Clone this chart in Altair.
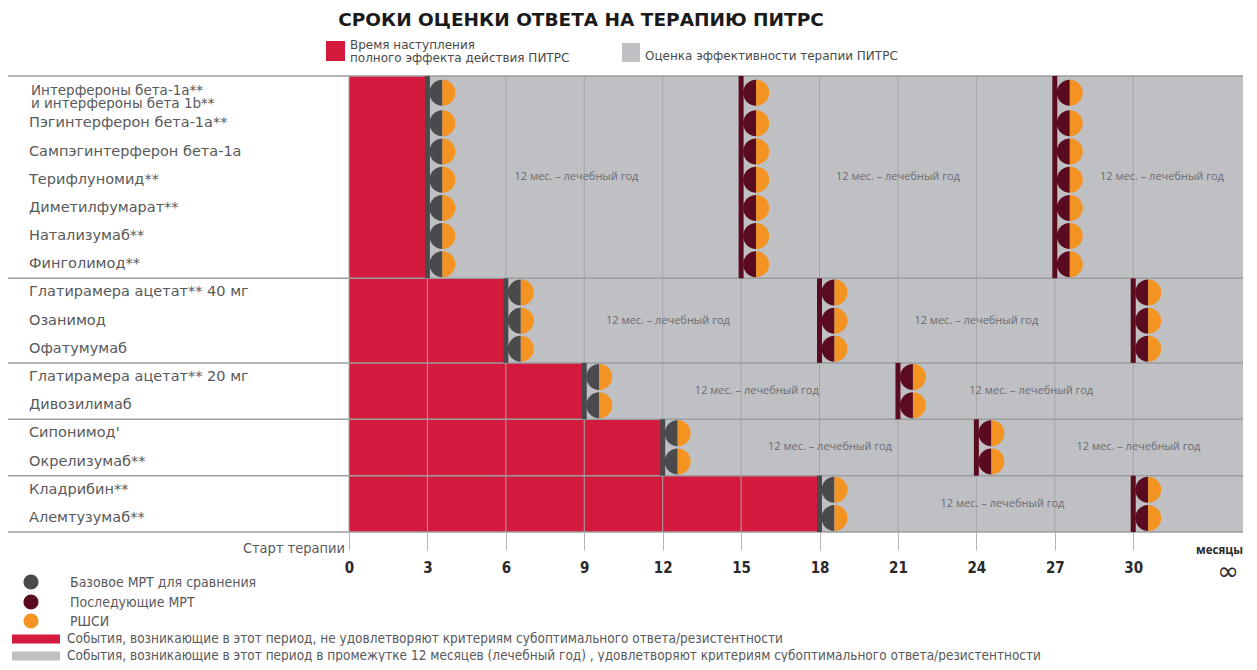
import altair as alt
import pandas as pd

# ---------------- data ----------------
drugs = [
    "Интерфероны бета-1а**\nи интерфероны бета 1b**",
    "Пэгинтерферон бета-1а**",
    "Сампэгинтерферон бета-1а",
    "Терифлуномид**",
    "Диметилфумарат**",
    "Натализумаб**",
    "Финголимод**",
    "Глатирамера ацетат** 40 мг",
    "Озанимод",
    "Офатумумаб",
    "Глатирамера ацетат** 20 мг",
    "Дивозилимаб",
    "Сипонимод'",
    "Окрелизумаб**",
    "Кладрибин**",
    "Алемтузумаб**",
]
group_sizes = [7, 3, 2, 2, 2]
full_effect_months = [3, 6, 9, 12, 18]
baseline_mri_months = [3, 6, 9, 12, 18]
followup_mri_months = [[15, 27], [18, 30], [21], [24], [30]]
year_label_months = [[8.7, 21.0, 31.1], [12.2, 24.0], [15.6, 26.1], [18.4, 30.2], [25.0]]
year_label_text = "12 мес. – лечебный год"
tick_months = [0, 3, 6, 9, 12, 15, 18, 21, 24, 27, 30]
x_max = 34.2

title_text = "СРОКИ ОЦЕНКИ ОТВЕТА НА ТЕРАПИЮ ПИТРС"
top_legend_red = ["Время наступления", "полного эффекта действия ПИТРС"]
top_legend_gray = "Оценка эффективности терапии ПИТРС"
marker_legend = ["Базовое МРТ для сравнения", "Последующие МРТ", "РШСИ"]
band_legend = [
    "События, возникающие в этот период, не удовлетворяют критериям субоптимального ответа/резистентности",
    "События, возникающие в этот период в промежутке 12 месяцев (лечебный год) , удовлетворяют критериям субоптимального ответа/резистентности",
]

# colours
RED = "#d51b3d"
GRAY_BG = "#bfc0c4"
GRID = "#a4a5a9"
DARK = "#4a4a4c"
MAROON = "#5a0b1f"
ORANGE = "#f39322"
TXT = "#58595b"

# ---------------- tables ----------------
# a row with a two-line label is a little taller
row_h = [1.18 if "\n" in d else 1.0 for d in drugs]
row_start = [sum(row_h[:i]) for i in range(len(drugs))]
row_mid = [row_start[i] + row_h[i] / 2 for i in range(len(drugs))]
total_h = sum(row_h)

labels_df = pd.DataFrame({"label": drugs, "yc": row_mid,
                          "multi": ["\n" in d for d in drugs]})

g_rows, bars, pts, ylabs = [], [], [], []
bounds = [0.0]
r0 = 0
for gi, size in enumerate(group_sizes):
    y0 = row_start[r0]
    y1 = row_start[r0 + size - 1] + row_h[r0 + size - 1]
    bounds.append(y1)
    g_rows.append({"y0": y0, "y1": y1, "x0": 0, "red_end": full_effect_months[gi]})
    months = [(baseline_mri_months[gi], "base")] + [(m, "follow") for m in followup_mri_months[gi]]
    for m, kind in months:
        bars.append({"month": m, "y0": y0, "y1": y1, "kind": kind})
        for r in range(r0, r0 + size):
            pts.append({"month": m, "yc": row_mid[r], "kind": kind})
    for xm in year_label_months[gi]:
        ylabs.append({"xm": xm, "ym": (y0 + y1) / 2, "t": year_label_text})
    r0 += size
groups_df = pd.DataFrame(g_rows)
bars_df = pd.DataFrame(bars)
pts_df = pd.DataFrame(pts)
ylab_df = pd.DataFrame(ylabs)
bounds_df = pd.DataFrame({"yb": bounds})
grid_df = pd.DataFrame({"m": tick_months, "y0": 0, "y1": total_h})
bg_df = pd.DataFrame({"x0": [0], "x1": [x_max], "y0": [0], "y1": [total_h]})

# ---------------- scales ----------------
xs = alt.Scale(domain=[0, x_max], nice=False, zero=False)
ys = alt.Scale(domain=[0, total_h], reverse=True, nice=False, zero=False)
kind_color = alt.Color("kind:N", scale=alt.Scale(domain=["base", "follow"], range=[DARK, MAROON]), legend=None)

SANS = "Open Sans, DejaVu Sans, sans-serif"
WIDE = "DejaVu Sans, sans-serif"
NARROW = "Liberation Sans Narrow, DejaVu Sans Condensed, Roboto, sans-serif"

bg = alt.Chart(bg_df).mark_rect(color=GRAY_BG).encode(
    x=alt.X("x0:Q", scale=xs, axis=alt.Axis(
        values=tick_months, grid=False, domain=False, tickSize=18, tickColor="#b5b5b5",
        tickWidth=1, labelFontSize=15, labelFont=NARROW, labelFontWeight="bold",
        labelColor="#2a2a2a", labelPadding=10, title=None, labelFlush=False)),
    x2="x1:Q",
    y=alt.Y("y0:Q", scale=ys, axis=None),
    y2="y1:Q",
)

red = alt.Chart(groups_df).mark_rect(color=RED).encode(
    x=alt.X("x0:Q", scale=xs), x2="red_end:Q", y=alt.Y("y0:Q", scale=ys), y2="y1:Q")

grid = alt.Chart(grid_df).mark_rule(color=GRID, strokeWidth=1).encode(
    x=alt.X("m:Q", scale=xs), y=alt.Y("y0:Q", scale=ys), y2="y1:Q")

hlines = alt.Chart(bounds_df).mark_rule(color="#9c9da0", strokeWidth=1.5).encode(
    y=alt.Y("yb:Q", scale=ys), x=alt.value(-341), x2=alt.value(894))

ytext = alt.Chart(ylab_df).mark_text(fontSize=11, font=SANS, color="#6a6b6e").encode(
    x=alt.X("xm:Q", scale=xs), y=alt.Y("ym:Q", scale=ys), text="t:N")

vbars = alt.Chart(bars_df).mark_rule(strokeWidth=5).encode(
    x=alt.X("month:Q", scale=xs), y=alt.Y("y0:Q", scale=ys), y2="y1:Q", color=kind_color)

LEFT = "M0,-1A1,1,0,0,0,0,1Z"
RIGHT = "M0,-1A1,1,0,0,1,0,1Z"
left_half = alt.Chart(pts_df).mark_point(shape=LEFT, filled=True, size=676, opacity=1,
                                         strokeWidth=0, xOffset=15).encode(
    x=alt.X("month:Q", scale=xs), y=alt.Y("yc:Q", scale=ys), color=kind_color)
right_half = alt.Chart(pts_df).mark_point(shape=RIGHT, filled=True, size=676, opacity=1,
                                          strokeWidth=0, xOffset=15, color=ORANGE).encode(
    x=alt.X("month:Q", scale=xs), y=alt.Y("yc:Q", scale=ys))

labels_single = alt.Chart(labels_df).transform_filter("!datum.multi").mark_text(
    align="left", baseline="middle", fontSize=14.5, font=WIDE, color=TXT).encode(
    x=alt.value(-320), y=alt.Y("yc:Q", scale=ys), text="label:N")
labels_multi = alt.Chart(labels_df).transform_filter("datum.multi").mark_text(
    align="left", baseline="middle", fontSize=13.5, font=WIDE, color=TXT, lineBreak="\n",
    lineHeight=13.5, dy=-2).encode(
    x=alt.value(-318), y=alt.Y("yc:Q", scale=ys), text="label:N")

one = pd.DataFrame({"a": [0]})


def txt(t, x, y, size, color=TXT, weight="normal", align="left", font=SANS):
    return alt.Chart(one).mark_text(text=t, fontSize=size, color=color, fontWeight=weight,
                                    align=align, baseline="middle", font=font).encode(
        x=alt.value(x), y=alt.value(y))


def box(x0, x1, y0, y1, color):
    return alt.Chart(one).mark_rect(color=color).encode(
        x=alt.value(x0), x2=alt.value(x1), y=alt.value(y0), y2=alt.value(y1))


def dot(x, y, color):
    return alt.Chart(one).mark_point(shape="circle", filled=True, size=230, opacity=1,
                                     color=color, strokeWidth=0).encode(
        x=alt.value(x), y=alt.value(y))


decor = [
    txt(title_text, 232, -56, 18.5, color="#1a1a1a", weight="bold", align="center", font=WIDE),
    box(-23, -4, -35, -15, RED),
    txt(top_legend_red[0], 1, -31, 12, color="#4a4a4a", font=WIDE),
    txt(top_legend_red[1], 1, -18, 12, color="#4a4a4a", font=WIDE),
    box(273, 291, -33, -14, GRAY_BG),
    txt(top_legend_gray, 296, -20, 12, color="#4a4a4a", font=WIDE),
    txt("Старт терапии", -4, 473, 14.5, color=TXT, align="right", font=NARROW),
    txt("месяцы", 894, 475, 11.5, color="#2a2a2a", weight="bold", align="right"),
    txt("∞", 879, 496, 26, color="#2a2a2a", align="center", font=WIDE),
]
for lbl, col, yy in zip(marker_legend, [DARK, MAROON, ORANGE], [506, 526, 545]):
    decor.append(dot(-318, yy, col))
    decor.append(txt(lbl, -279, yy + 1, 14, font=NARROW))
for lbl, col, yy in zip(band_legend, [RED, GRAY_BG], [563, 580]):
    decor.append(box(-337, -289, yy - 4.5, yy + 4.5, col))
    decor.append(txt(lbl, -282, yy, 13.5, font=NARROW))

chart = alt.layer(bg, red, grid, hlines, ytext, vbars, left_half, right_half,
                  labels_single, labels_multi, *decor).properties(
    width=894, height=456,
    autosize=alt.AutoSizeParams(type="none"),
    padding={"left": 341, "top": 68, "right": 4, "bottom": 130},
    background="white",
).configure_view(stroke=None)

chart.save("out.html", embed_options={"renderer": "svg", "actions": False})
